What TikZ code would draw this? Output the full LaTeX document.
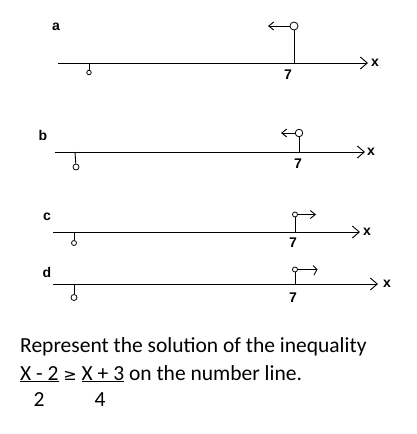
\documentclass[tikz,border=0pt]{standalone}
\usepackage{fontspec}
\setmainfont{Carlito}
\newfontfamily\labfont{Liberation Sans}
\newfontfamily\symfont{DejaVu Sans}
\usetikzlibrary{arrows.meta}
\begin{document}
\begin{tikzpicture}[x=1pt,y=-1pt,
  axis/.style={line width=0.9pt,-{Straight Barb[length=7pt,width=12pt,line width=0.9pt]}},
  stem/.style={line width=0.9pt},
  pointer/.style={line width=0.9pt,-{Straight Barb[length=5pt,width=8pt,line width=0.9pt]}},
  ring/.style={circle,draw,line width=0.8pt,inner sep=0pt,minimum size=5pt,fill=white},
  lbl/.style={font=\labfont\bfseries\fontsize{14}{16}\selectfont,inner sep=0pt},
  txt/.style={font=\fontsize{21.5}{25}\selectfont,inner sep=0pt,anchor=base west}]
\useasboundingbox (0,0) rectangle (416,434);
% ---- a ----
\coordinate (a0) at (58,63); \coordinate (a1) at (368,63);
\draw[axis] (a0) -- (a1);
\node[lbl] (ax) at (375,63) {x};
\node[lbl] (al) at (56,27) {a};
\node[lbl] (a7) at (288,75) {7};
\coordinate (ap) at (294,63);
\node[ring,minimum width=6pt,minimum height=8pt] (ac) at (294,26) {};
\draw[stem] (ap) -- (ac);
\coordinate (ae) at (268,26);
\draw[pointer] (ac) -- (ae);
\coordinate (aq) at (89,63);
\node[ring,minimum size=4.5pt] (as) at (89,72.5) {};
\draw[stem] (aq) -- (as);
% ---- b ----
\coordinate (b0) at (55,152); \coordinate (b1) at (365,152);
\draw[axis] (b0) -- (b1);
\node[lbl] (bx) at (371,152) {x};
\node[lbl] (bl) at (43,135) {b};
\node[lbl] (b7) at (298,164) {7};
\coordinate (bp) at (299,152);
\node[ring,minimum size=7.5pt] (bc) at (299,133) {};
\draw[stem] (bp) -- (bc);
\coordinate (be) at (281,133);
\draw[pointer] (bc) -- (be);
\coordinate (bq) at (75,152);
\node[ring,minimum size=6pt] (bs) at (76,167) {};
\draw[stem] (bq) -- (bs);
% ---- c ----
\coordinate (c0) at (53,232); \coordinate (c1) at (360,232);
\draw[axis] (c0) -- (c1);
\node[lbl] (cx) at (367,232) {x};
\node[lbl] (cl) at (47,217) {c};
\node[lbl] (c7) at (293,243) {7};
\coordinate (cp) at (295,232);
\node[ring] (cc) at (295,214.5) {};
\draw[stem] (cp) -- (cc);
\coordinate (ce) at (316,214.5);
\draw[pointer] (cc) -- (ce);
\coordinate (cq) at (74,232);
\node[ring] (cs) at (74,243) {};
\draw[stem] (cq) -- (cs);
% ---- d ----
\coordinate (d0) at (53,284); \coordinate (d1) at (378,284);
\draw[axis] (d0) -- (d1);
\node[lbl] (dx) at (387,284) {x};
\node[lbl] (dl) at (47,272) {d};
\node[lbl] (d7) at (293,298) {7};
\coordinate (dp) at (295,284);
\node[ring] (dc) at (295,269.5) {};
\draw[stem] (dp) -- (dc);
\coordinate (de) at (316,269.5);
\draw[line width=0.9pt] (dc) -- (de) (313,265.5) -- (317,269.5) -- (314,275);
\coordinate (dq) at (74,284);
\node[ring,minimum size=6pt] (ds) at (74,297.5) {};
\draw[stem] (dq) -- (ds);
% ---- text ----
\node[txt] (t1) at (20,352) {Represent the solution of the inequality};
\node[txt] (t2) at (20,380) {\underline{X - 2} {\symfont\fontsize{16}{18}\selectfont ≥} \underline{X + 3} on the number line.};
\node[txt,anchor=base] (n2) at (39,406) {2};
\node[txt,anchor=base] (n4) at (100,406) {4};
\end{tikzpicture}
\end{document}
